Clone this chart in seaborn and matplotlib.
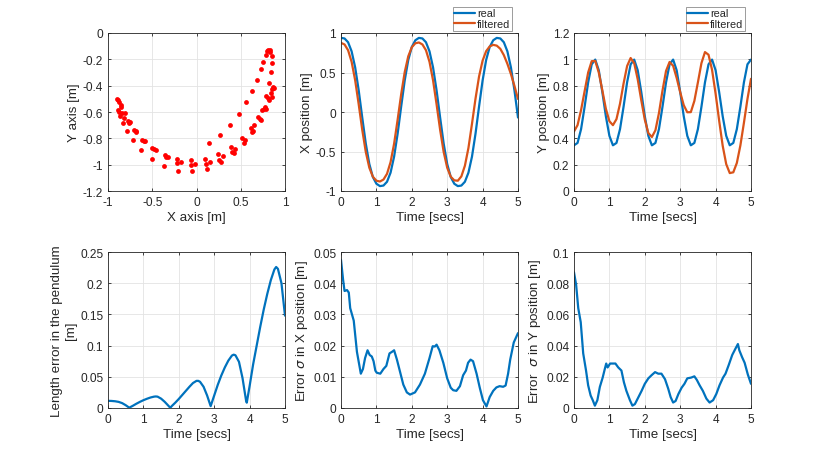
import numpy as np
import matplotlib
matplotlib.use("Agg")
import matplotlib.pyplot as plt
import seaborn as sns
from matplotlib.ticker import FuncFormatter

# measured pendulum positions (top-left scatter)
meas_x = [-0.895, -0.887, -0.876, -0.857, -0.850, -0.887, -0.872, -0.842, -0.812, -0.865,
          -0.816, -0.774, -0.756, -0.835, -0.763, -0.786, -0.707, -0.688, -0.680, -0.714,
          -0.613, -0.594, -0.579, -0.624, -0.504, -0.485, -0.462, -0.508, -0.361, -0.350,
          -0.323, -0.368, -0.218, -0.222, -0.173, -0.214, -0.064, -0.060, -0.015, -0.049,
          0.812, 0.827, 0.797, 0.835, 0.782, 0.850, 0.752, 0.850, 0.726, 0.838,
          0.684, 0.820, 0.628, 0.865, 0.876, 0.850, 0.842, 0.786, 0.805, 0.823,
          0.857, 0.560, 0.771, 0.789, 0.744, 0.763, 0.477, 0.699, 0.718, 0.729,
          0.654, 0.376, 0.617, 0.643, 0.632, 0.263, 0.511, 0.553, 0.538, 0.143,
          0.391, 0.436, 0.406, 0.425, 0.248, 0.305, 0.256, 0.278, 0.098, 0.147,
          0.102, 0.117]
meas_y = [-0.499, -0.511, -0.524, -0.549, -0.562, -0.587, -0.600, -0.605, -0.605, -0.630,
          -0.646, -0.666, -0.676, -0.684, -0.684, -0.747, -0.739, -0.752, -0.744, -0.815,
          -0.810, -0.818, -0.823, -0.889, -0.873, -0.884, -0.889, -0.957, -0.924, -0.942,
          -0.944, -1.010, -0.957, -0.985, -0.977, -1.046, -0.967, -1.005, -0.992, -1.048,
          -0.127, -0.127, -0.139, -0.144, -0.170, -0.177, -0.220, -0.228, -0.276, -0.299,
          -0.354, -0.382, -0.438, -0.408, -0.418, -0.428, -0.453, -0.478, -0.494, -0.511,
          -0.484, -0.524, -0.562, -0.575, -0.587, -0.580, -0.613, -0.641, -0.651, -0.661,
          -0.701, -0.696, -0.722, -0.742, -0.754, -0.775, -0.797, -0.810, -0.833, -0.833,
          -0.868, -0.884, -0.904, -0.909, -0.922, -0.934, -0.965, -0.980, -0.954, -0.977,
          -0.995, -1.030]

# time grid for the position plots (0 .. 5 s, 0.1 s steps)
time = np.linspace(0, 5, 51)

real_x = [0.938, 0.931, 0.883, 0.768, 0.565, 0.274, -0.070, -0.399, -0.658, -0.823, -0.908,
          -0.938, -0.931, -0.883, -0.768, -0.565, -0.274, 0.070, 0.399, 0.658, 0.823, 0.908,
          0.938, 0.931, 0.883, 0.768, 0.565, 0.274, -0.070, -0.399, -0.658, -0.823, -0.908,
          -0.938, -0.931, -0.883, -0.768, -0.565, -0.274, 0.070, 0.399, 0.658, 0.823, 0.908,
          0.938, 0.931, 0.883, 0.768, 0.565, 0.274, -0.070]
filt_x = [0.875, 0.855, 0.782, 0.635, 0.402, 0.097, -0.225, -0.505, -0.705, -0.819, -0.870,
          -0.880, -0.855, -0.782, -0.635, -0.402, -0.097, 0.225, 0.505, 0.705, 0.819, 0.870,
          0.880, 0.855, 0.782, 0.635, 0.402, 0.097, -0.225, -0.505, -0.705, -0.819,
          -0.865, -0.870, -0.815, -0.680, -0.455, -0.150, 0.170, 0.450, 0.650, 0.770,
          0.830, 0.850, 0.840, 0.800, 0.720, 0.610, 0.480, 0.330, 0.165]
real_y = [0.347, 0.365, 0.470, 0.640, 0.825, 0.962, 0.998, 0.917, 0.752, 0.568, 0.419,
          0.347, 0.365, 0.470, 0.640, 0.825, 0.962, 0.998, 0.917, 0.752, 0.568, 0.419,
          0.347, 0.365, 0.470, 0.640, 0.825, 0.962, 0.998, 0.917, 0.752, 0.568, 0.419,
          0.347, 0.365, 0.470, 0.640, 0.825, 0.962, 0.998, 0.917, 0.752, 0.568, 0.419,
          0.347, 0.365, 0.470, 0.640, 0.825, 0.962, 0.998]
filt_y = [0.452, 0.500, 0.615, 0.758, 0.900, 0.986, 0.988, 0.900, 0.765, 0.625, 0.530,
          0.500, 0.546, 0.663, 0.816, 0.949, 1.010, 0.971, 0.848, 0.690, 0.542, 0.440,
          0.410, 0.461, 0.592, 0.763, 0.912, 0.980, 0.951, 0.859, 0.750, 0.652, 0.598,
          0.599, 0.684, 0.825, 0.971, 1.055, 1.035, 0.920, 0.739, 0.535, 0.344, 0.204,
          0.136, 0.142, 0.213, 0.346, 0.518, 0.699, 0.852]

# length error of the pendulum
len_t = [0.0, 0.1, 0.2, 0.3, 0.4, 0.5, 0.6, 0.7, 0.8, 0.9, 1.0, 1.1, 1.2, 1.3, 1.35, 1.4, 1.5,
         1.6, 1.7, 1.76, 1.8, 1.9, 2.0, 2.1, 2.2, 2.3, 2.4, 2.5, 2.55, 2.6, 2.7, 2.8, 2.9,
         3.0, 3.1, 3.2, 3.3, 3.4, 3.5, 3.55, 3.6, 3.7, 3.8, 3.9, 3.92, 4.0, 4.1, 4.2, 4.3,
         4.4, 4.5, 4.6, 4.7, 4.75, 4.8, 4.9, 5.0]
len_err = [0.0115, 0.0113, 0.0108, 0.0098, 0.0078, 0.0045, 0.0005, 0.0035, 0.0068, 0.0098,
           0.0125, 0.0148, 0.0168, 0.0182, 0.0185, 0.0182, 0.0150, 0.0100, 0.0040, 0.0003,
           0.0030, 0.0085, 0.0145, 0.0210, 0.0275, 0.0340, 0.0400, 0.0435, 0.0435, 0.0420,
           0.0340, 0.0200, 0.0030, 0.0200, 0.0370, 0.0520, 0.0650, 0.0760, 0.0840, 0.0855,
           0.0845, 0.0740, 0.0480, 0.0120, 0.0085, 0.0350, 0.0700, 0.1000, 0.1300, 0.1580,
           0.1830, 0.2050, 0.2220, 0.2260, 0.2230, 0.2000, 0.1480]

# sigma of the X estimate
sx_t = [0.0, 0.06, 0.1, 0.17, 0.22, 0.26, 0.36, 0.45, 0.56, 0.62, 0.68, 0.75, 0.81, 0.87,
        0.92, 0.97, 1.01, 1.11, 1.2, 1.28, 1.37, 1.44, 1.5, 1.58, 1.67, 1.76, 1.86, 1.95,
        2.09, 2.23, 2.37, 2.5, 2.59, 2.65, 2.7, 2.78, 2.89, 3.0, 3.1, 3.17, 3.26, 3.36,
        3.45, 3.53, 3.59, 3.66, 3.73, 3.83, 3.92, 4.01, 4.11, 4.2, 4.3, 4.39, 4.48, 4.58,
        4.65, 4.72, 4.78, 4.88, 5.0]
sigma_x = [0.0475, 0.0410, 0.0375, 0.0378, 0.0370, 0.0320, 0.0280, 0.0180, 0.0110, 0.0125,
           0.0160, 0.0185, 0.0170, 0.0165, 0.0150, 0.0120, 0.0113, 0.0110, 0.0125, 0.0135,
           0.0175, 0.0180, 0.0185, 0.0155, 0.0115, 0.0075, 0.0050, 0.0043, 0.0050, 0.0075,
           0.0110, 0.0160, 0.0198, 0.0197, 0.0203, 0.0185, 0.0145, 0.0095, 0.0065, 0.0057,
           0.0055, 0.0070, 0.0105, 0.0120, 0.0145, 0.0155, 0.0150, 0.0110, 0.0065, 0.0025,
           0.0005, 0.0035, 0.0055, 0.0066, 0.0070, 0.0068, 0.0072, 0.0110, 0.0155, 0.0210,
           0.0240]

# sigma of the Y estimate
sy_t = [0.0, 0.06, 0.12, 0.19, 0.26, 0.34, 0.4, 0.47, 0.53, 0.59, 0.66, 0.73, 0.81, 0.87,
        0.91, 0.95, 1.02, 1.09, 1.17, 1.25, 1.34, 1.41, 1.48, 1.58, 1.65, 1.72, 1.81, 1.91,
        2.0, 2.1, 2.19, 2.29, 2.38, 2.47, 2.57, 2.66, 2.73, 2.8, 2.87, 2.95, 3.04, 3.12,
        3.2, 3.31, 3.4, 3.47, 3.55, 3.64, 3.74, 3.83, 3.93, 4.02, 4.11, 4.21, 4.28, 4.37,
        4.47, 4.56, 4.63, 4.67, 4.75, 4.82, 4.91, 5.0]
sigma_y = [0.0870, 0.0790, 0.0640, 0.0550, 0.0350, 0.0240, 0.0145, 0.0080, 0.0050, 0.0015,
           0.0050, 0.0135, 0.0195, 0.0250, 0.0285, 0.0260, 0.0285, 0.0285, 0.0285, 0.0260,
           0.0240, 0.0165, 0.0110, 0.0050, 0.0015, 0.0025, 0.0065, 0.0110, 0.0155, 0.0190,
           0.0210, 0.0230, 0.0220, 0.0220, 0.0185, 0.0125, 0.0070, 0.0035, 0.0045, 0.0090,
           0.0130, 0.0155, 0.0190, 0.0195, 0.0203, 0.0180, 0.0145, 0.0110, 0.0060, 0.0035,
           0.0050, 0.0090, 0.0145, 0.0195, 0.0220, 0.0275, 0.0340, 0.0380, 0.0410, 0.0370,
           0.0325, 0.0290, 0.0215, 0.0155]

BLUE = "#0072BD"
ORANGE = "#D95319"
TXT = "#262626"

sns.set_theme(style="whitegrid")
plt.rcParams["font.family"] = ["Liberation Sans", "DejaVu Sans"]
plt.rcParams["axes.unicode_minus"] = False
plt.rcParams["mathtext.fontset"] = "dejavusans"

fig = plt.figure(figsize=(8.3, 4.6), dpi=100)
fig.patch.set_facecolor("white")

lefts = [108 / 830, 341 / 830, 574 / 830]
w = 177 / 830
top_b, top_h = 268 / 460, 158 / 460
bot_b, bot_h = 51 / 460, 156 / 460

axes = [[fig.add_axes([l, top_b, w, top_h]) for l in lefts],
        [fig.add_axes([l, bot_b, w, bot_h]) for l in lefts]]

fmt = FuncFormatter(lambda v, _: "0" if abs(v) < 1e-9 else f"{v:g}")


def style(ax, xlabel, ylabel, xlim, ylim, xticks, yticks):
    ax.set_facecolor("white")
    ax.set_xlim(*xlim)
    ax.set_ylim(*ylim)
    ax.set_xticks(xticks)
    ax.set_yticks(yticks)
    ax.xaxis.set_major_formatter(fmt)
    ax.yaxis.set_major_formatter(fmt)
    ax.grid(True, color="#e3e3e3", linewidth=0.6)
    for s in ax.spines.values():
        s.set_color(TXT)
        s.set_linewidth(0.6)
        s.set_visible(True)
    ax.tick_params(direction="in", length=2.5, width=0.6, colors=TXT, labelsize=8.6,
                   top=True, right=True, bottom=True, left=True, pad=3.5)
    ax.set_xlabel(xlabel, fontsize=9.6, color=TXT, labelpad=2)
    ax.set_ylabel(ylabel, fontsize=9.6, color=TXT, labelpad=2)


def add_legend(ax):
    leg = ax.legend(loc="lower right", bbox_to_anchor=(0.966, 1.015), fontsize=7.8,
                    frameon=True, fancybox=False, framealpha=1, edgecolor="#8c8c8c",
                    handlelength=1.9, handletextpad=0.2, borderpad=0.15,
                    labelspacing=0.05, borderaxespad=0)
    leg.get_frame().set_linewidth(0.6)


time_ticks = [0, 1, 2, 3, 4, 5]

# top-left: measured positions
ax = axes[0][0]
sns.scatterplot(x=meas_x, y=meas_y, ax=ax, color="red", s=12, linewidth=0)
style(ax, "X axis [m]", "Y axis [m]", (-1, 1), (-1.2, 0),
      [-1, -0.5, 0, 0.5, 1], [-1.2, -1, -0.8, -0.6, -0.4, -0.2, 0])

# top-middle: X position
ax = axes[0][1]
sns.lineplot(x=time, y=real_x, ax=ax, color=BLUE, linewidth=1.6, label="real",
             estimator=None, sort=False)
sns.lineplot(x=time, y=filt_x, ax=ax, color=ORANGE, linewidth=1.6, label="filtered",
             estimator=None, sort=False)
style(ax, "Time [secs]", "X position [m]", (0, 5), (-1, 1), time_ticks,
      [-1, -0.5, 0, 0.5, 1])
add_legend(ax)

# top-right: Y position
ax = axes[0][2]
sns.lineplot(x=time, y=real_y, ax=ax, color=BLUE, linewidth=1.6, label="real",
             estimator=None, sort=False)
sns.lineplot(x=time, y=filt_y, ax=ax, color=ORANGE, linewidth=1.6, label="filtered",
             estimator=None, sort=False)
style(ax, "Time [secs]", "Y position [m]", (0, 5), (0, 1.2), time_ticks,
      [0, 0.2, 0.4, 0.6, 0.8, 1, 1.2])
add_legend(ax)

# bottom-left: length error
ax = axes[1][0]
sns.lineplot(x=len_t, y=len_err, ax=ax, color=BLUE, linewidth=1.6,
             estimator=None, sort=False)
style(ax, "Time [secs]", "Length error in the pendulum\n[m]", (0, 5), (0, 0.25),
      time_ticks, [0, 0.05, 0.1, 0.15, 0.2, 0.25])

# bottom-middle: sigma X
ax = axes[1][1]
sns.lineplot(x=sx_t, y=sigma_x, ax=ax, color=BLUE, linewidth=1.6,
             estimator=None, sort=False)
style(ax, "Time [secs]", r"Error $\sigma$ in X position [m]", (0, 5), (0, 0.05),
      time_ticks, [0, 0.01, 0.02, 0.03, 0.04, 0.05])

# bottom-right: sigma Y
ax = axes[1][2]
sns.lineplot(x=sy_t, y=sigma_y, ax=ax, color=BLUE, linewidth=1.6,
             estimator=None, sort=False)
style(ax, "Time [secs]", r"Error  $\sigma$ in Y position [m]", (0, 5), (0, 0.1),
      time_ticks, [0, 0.02, 0.04, 0.06, 0.08, 0.1])

fig.savefig("out.png", dpi=100, facecolor="white")
